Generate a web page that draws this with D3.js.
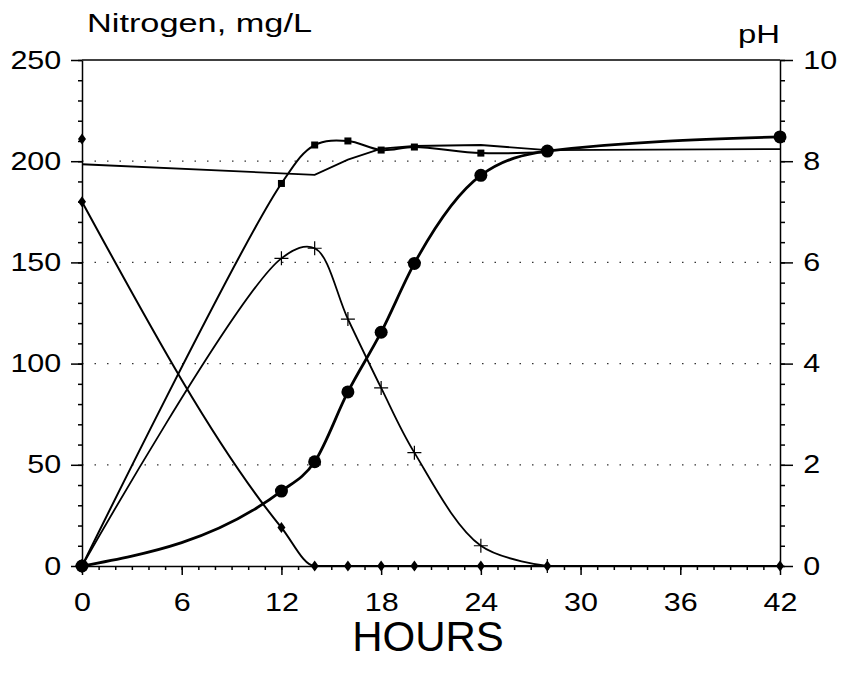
<!DOCTYPE html>
<html>
<head>
<meta charset="utf-8">
<script src="https://cdn.jsdelivr.net/npm/d3@7"></script>
<style>
  body { margin: 0; background: #fff; }
  svg text { font-family: "Liberation Sans", Arial, sans-serif; fill: #000; }
</style>
</head>
<body>
<script>
// values
var ammoniaHours = [0, 12, 14, 16, 18, 20, 24, 28, 42];
var ammonia      = [180, 19, 0, 0, 0, 0, 0, 0, 0];

// lone diamond at the start
var startHours = [0];
var startVals  = [211];

var nitriteHours = [0, 12, 14, 16, 18, 20, 24, 28];
var nitrite      = [0, 152, 157, 122, 88, 56, 10, 0];

var squareHours  = [0, 12, 14, 16, 18, 20, 24, 28];
var squareVals   = [0, 189, 208, 210, 205.5, 207, 204, 204.5];

var nitrateHours = [0, 12, 14, 16, 18, 20, 24, 28, 42];
var nitrate      = [0, 37, 51.5, 86, 115.5, 149.5, 193, 205, 212];

var phHours = [0, 14, 16, 18, 20, 24, 28, 42];
var phVals  = [7.94, 7.73, 8.03, 8.25, 8.3, 8.32, 8.22, 8.24];

var hourTicks = [0, 6, 12, 18, 24, 30, 36, 42];
var nTicks    = [0, 50, 100, 150, 200, 250];
var phTicks   = [0, 2, 4, 6, 8, 10];

var w = 841, h = 681;
var plotL = 82, plotR = 780, plotT = 60, plotB = 566;

var svg = d3.select("body").append("svg")
            .attr("width", w)
            .attr("height", h);

var x  = d3.scaleLinear().domain([0, 42]).range([plotL, plotR]);
var yN = d3.scaleLinear().domain([0, 250]).range([plotB, plotT]);
var yP = d3.scaleLinear().domain([0, 10]).range([plotB, plotT]);

function zip(hs, vs) {
  return hs.map(function(d, i) { return { h: d, v: vs[i] }; });
}

// dotted grid
svg.append("g").selectAll("line")
   .data(nTicks.slice(1, 5))
   .enter().append("line")
   .attr("x1", plotL).attr("x2", plotR)
   .attr("y1", function(d) { return yN(d); })
   .attr("y2", function(d) { return yN(d); })
   .attr("stroke", "#333")
   .attr("stroke-width", 1.2)
   .attr("stroke-dasharray", "1.5,11");

// frame top
svg.append("line")
   .attr("x1", plotL).attr("x2", plotR)
   .attr("y1", plotT).attr("y2", plotT)
   .attr("stroke", "#000").attr("stroke-width", 1.5);

var labelScale = "scale(1.22,1)";

// left axis
svg.append("g").attr("transform", "translate(" + plotL + ",0)")
   .call(d3.axisLeft(yN).tickValues(d3.range(0, 251, 10)).tickSize(4).tickFormat(""))
   .call(function(g) { g.select(".domain").remove(); });
var gL = svg.append("g").attr("transform", "translate(" + plotL + ",0)")
   .call(d3.axisLeft(yN).tickValues(nTicks).tickSize(11).tickPadding(6).tickSizeOuter(0));
gL.selectAll("text").attr("font-size", 25).attr("font-family", "Liberation Sans").attr("transform", labelScale);

// right axis
svg.append("g").attr("transform", "translate(" + plotR + ",0)")
   .call(d3.axisRight(yP).tickValues(d3.range(0, 10.01, 0.4)).tickSize(5).tickFormat(""))
   .call(function(g) { g.select(".domain").remove(); });
var gR = svg.append("g").attr("transform", "translate(" + plotR + ",0)")
   .call(d3.axisRight(yP).tickValues(phTicks).tickSize(13).tickPadding(6).tickSizeOuter(0));
gR.selectAll("text").attr("font-size", 25).attr("font-family", "Liberation Sans").attr("transform", labelScale);

// bottom axis
svg.append("g").attr("transform", "translate(0," + plotB + ")")
   .call(d3.axisBottom(x).tickValues(d3.range(0, 43, 1)).tickSize(4).tickFormat(""))
   .call(function(g) { g.select(".domain").remove(); });
var gB = svg.append("g").attr("transform", "translate(0," + plotB + ")")
   .call(d3.axisBottom(x).tickValues(hourTicks).tickSize(9).tickPadding(18).tickSizeOuter(0));
gB.selectAll("text").attr("font-size", 25).attr("font-family", "Liberation Sans").attr("transform", labelScale);

svg.selectAll(".domain, .tick line").attr("stroke-width", 1.5);

// titles
svg.append("text").attr("x", 87).attr("y", 32)
   .attr("font-size", 25).attr("textLength", 225).attr("lengthAdjust", "spacingAndGlyphs")
   .text("Nitrogen, mg/L");
svg.append("text").attr("x", 738).attr("y", 43)
   .attr("font-size", 25).attr("textLength", 42).attr("lengthAdjust", "spacingAndGlyphs")
   .text("pH");
svg.append("text").attr("x", 428).attr("y", 651)
   .attr("text-anchor", "middle")
   .attr("font-size", 42)
   .text("HOURS");

// lines
function lineFor(curve, y) {
  return d3.line().curve(curve)
           .x(function(d) { return x(d.h); })
           .y(function(d) { return y(d.v); });
}
var smooth = lineFor(d3.curveCatmullRom.alpha(0.5), yN);
var mono   = lineFor(d3.curveMonotoneX, yN);
var lineP  = lineFor(d3.curveLinear, yP);

var ammoniaData = zip(ammoniaHours, ammonia);
var startData   = zip(startHours, startVals);
var nitriteData = zip(nitriteHours, nitrite);
var squareData  = zip(squareHours, squareVals);
var nitrateData = zip(nitrateHours, nitrate);
var phData      = zip(phHours, phVals);

svg.append("path").datum(phData).attr("d", lineP)
   .attr("fill", "none").attr("stroke", "#000").attr("stroke-width", 1.8);
svg.append("path").datum(ammoniaData).attr("d", mono)
   .attr("fill", "none").attr("stroke", "#000").attr("stroke-width", 2);
svg.append("path").datum(nitriteData).attr("d", smooth)
   .attr("fill", "none").attr("stroke", "#000").attr("stroke-width", 1.8);
svg.append("path").datum(squareData).attr("d", smooth)
   .attr("fill", "none").attr("stroke", "#000").attr("stroke-width", 2);
svg.append("path").datum(nitrateData).attr("d", mono)
   .attr("fill", "none").attr("stroke", "#000").attr("stroke-width", 2.8);

// markers
svg.append("g").selectAll("path")
   .data(ammoniaData.concat(startData)).enter().append("path")
   .attr("d", "M0,-5.5L4,0L0,5.5L-4,0Z")
   .attr("transform", function(d) { return "translate(" + x(d.h) + "," + yN(d.v) + ")"; })
   .attr("fill", "#000");

svg.append("g").selectAll("path")
   .data(nitriteData).enter().append("path")
   .attr("d", "M-7,0H7M0,-7V7")
   .attr("transform", function(d) { return "translate(" + x(d.h) + "," + yN(d.v) + ")"; })
   .attr("stroke", "#000").attr("stroke-width", 1.2);

svg.append("g").selectAll("rect")
   .data(squareData).enter().append("rect")
   .attr("x", function(d) { return x(d.h) - 3.5; })
   .attr("y", function(d) { return yN(d.v) - 3.5; })
   .attr("width", 7).attr("height", 7)
   .attr("fill", "#000");

svg.append("g").selectAll("circle")
   .data(nitrateData).enter().append("circle")
   .attr("cx", function(d) { return x(d.h); })
   .attr("cy", function(d) { return yN(d.v); })
   .attr("r", 6.5)
   .attr("fill", "#000");
</script>
</body>
</html>
